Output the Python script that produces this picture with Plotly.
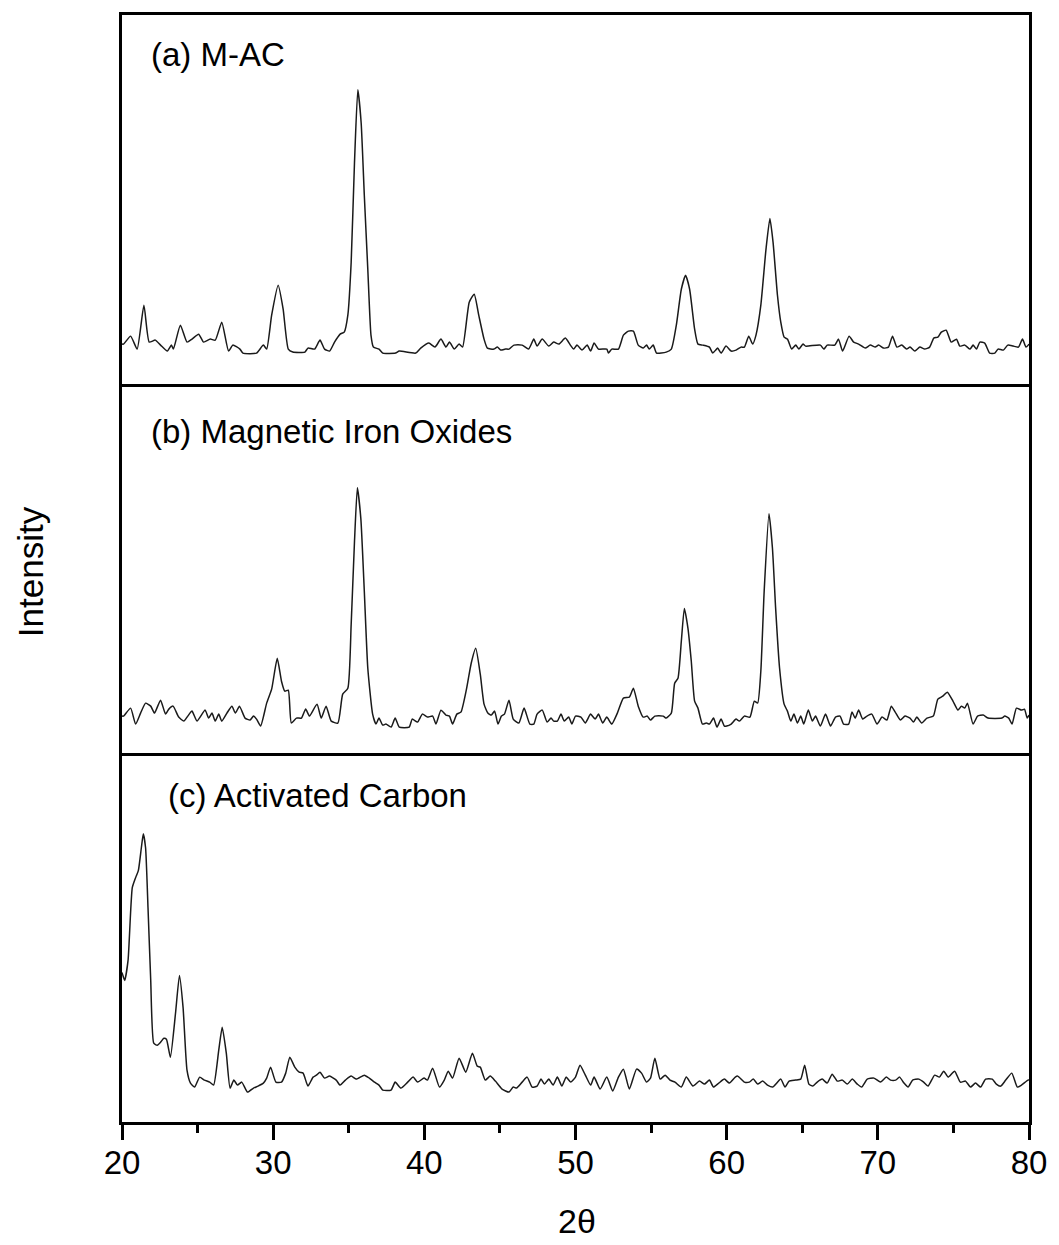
import plotly.graph_objects as go

# ---------------- data ----------------
two_theta_a = [20.0, 20.1, 20.57, 21.0, 21.45, 21.8, 22.2, 22.55, 23.0, 23.27, 23.4, 23.86, 24.3, 24.63, 25.07, 25.4,
               25.84, 26.17, 26.6, 27.05, 27.33, 27.8, 28.0, 28.9, 29.35, 29.57, 29.9, 30.33, 30.66, 31.0, 31.3,
               32.1, 32.3, 32.74, 33.1, 33.4, 33.73, 34.06, 34.43, 34.7, 34.94, 35.16, 35.38, 35.6, 35.82, 36.03,
               36.26, 36.47, 36.63, 37.0, 37.25, 38.1, 38.34, 39.43, 39.76, 40.3, 40.7, 41.1, 41.43, 41.66, 41.98,
               42.3, 42.53, 42.97, 43.3, 43.6, 43.95, 44.17, 44.6, 44.83, 45.05, 45.37, 45.6, 45.93, 46.47, 46.9,
               47.24, 47.46, 47.8, 48.23, 48.56, 48.9, 49.33, 49.66, 49.88, 50.1, 50.43, 50.77, 51.0, 51.23, 51.52,
               52.07, 52.18, 52.4, 52.84, 53.17, 53.5, 53.83, 54.15, 54.48, 54.7, 54.88, 55.14, 55.36, 56.0, 56.34,
               56.67, 57.0, 57.28, 57.55, 57.88, 58.1, 58.43, 58.86, 59.08, 59.4, 59.63, 59.96, 60.3, 60.62, 60.95,
               61.17, 61.46, 61.72, 61.94, 62.26, 62.6, 62.86, 63.07, 63.36, 63.58, 63.8, 64.02, 64.3, 64.57, 64.78,
               65.05, 65.22, 66.2, 66.43, 66.65, 67.15, 67.4, 67.67, 68.1, 68.4, 68.73, 69.17, 69.5, 69.83, 70.05,
               70.38, 70.7, 70.97, 71.26, 71.58, 71.9, 72.13, 72.45, 72.78, 73.1, 73.43, 73.7, 73.97, 74.2, 74.52,
               74.85, 75.2, 75.42, 75.75, 76.1, 76.3, 76.53, 76.75, 77.07, 77.4, 77.74, 77.95, 78.3, 78.6, 78.95,
               79.3, 79.57, 79.8, 80.0]
intensity_a = [40, 40, 48, 35, 79, 42, 44, 39, 33, 39, 35, 59, 42, 45, 50, 42,
               45, 44, 62, 33, 39, 35, 31, 31, 39, 35, 69, 99, 75, 35, 32,
               32, 36, 35, 44, 35, 33, 42, 50, 52, 69, 122, 222, 295, 262, 189,
               115, 49, 37, 35, 31, 31, 33, 31, 36, 41, 37, 45, 37, 42, 35,
               40, 37, 82, 90, 69, 45, 36, 35, 37, 34, 35, 35, 39, 39, 35,
               45, 38, 45, 38, 42, 40, 46, 39, 35, 39, 34, 39, 33, 41, 35,
               35, 31, 35, 35, 49, 53, 53, 39, 36, 39, 35, 39, 31, 32, 35,
               59, 95, 109, 95, 55, 40, 39, 37, 31, 36, 31, 38, 33, 34, 37,
               37, 48, 40, 49, 79, 135, 166, 142, 89, 62, 47, 45, 35, 39, 35,
               40, 38, 39, 35, 39, 39, 45, 33, 48, 42, 40, 36, 39, 37, 39,
               36, 37, 48, 37, 39, 35, 37, 33, 37, 35, 37, 46, 47, 52, 54,
               42, 45, 38, 39, 35, 39, 35, 42, 41, 31, 31, 35, 34, 39, 38,
               37, 45, 37, 40]

two_theta_b = [20.0, 20.1, 20.57, 20.9, 21.23, 21.56, 21.9, 22.15, 22.55, 22.88, 23.1, 23.38, 23.75, 24.09, 24.35,
               24.63, 24.96, 25.5, 25.73, 25.95, 26.17, 26.4, 26.6, 26.94, 27.27, 27.5, 27.77, 28.14, 28.47, 28.7,
               28.9, 29.17, 29.57, 29.9, 30.27, 30.55, 30.77, 31.0, 31.2, 31.54, 31.87, 32.15, 32.4, 32.9, 33.18,
               33.5, 33.84, 34.28, 34.6, 34.94, 35.16, 35.38, 35.57, 35.8, 36.03, 36.26, 36.58, 36.8, 37.0, 37.25,
               37.46, 37.8, 38.07, 38.34, 39.0, 39.2, 39.55, 39.87, 40.2, 40.55, 40.77, 41.1, 41.43, 41.66, 41.87,
               42.15, 42.42, 42.8, 43.1, 43.4, 43.7, 43.95, 44.2, 44.43, 44.65, 44.87, 45.1, 45.3, 45.6, 45.88,
               46.25, 46.6, 46.98, 47.24, 47.46, 47.8, 48.12, 48.38, 48.56, 48.8, 49.04, 49.26, 49.55, 49.76, 50.0,
               50.36, 50.65, 51.0, 51.3, 51.52, 51.8, 52.07, 52.4, 52.77, 53.17, 53.56, 53.83, 54.15, 54.48, 54.75,
               54.96, 55.25, 55.8, 56.0, 56.34, 56.56, 56.78, 57.0, 57.2, 57.44, 57.66, 57.88, 58.1, 58.4, 58.66,
               58.86, 59.13, 59.36, 59.63, 59.85, 60.0, 60.3, 60.62, 60.84, 61.17, 61.54, 61.83, 62.05, 62.26, 62.48,
               62.8, 63.03, 63.24, 63.5, 63.8, 64.02, 64.24, 64.45, 64.68, 64.9, 65.1, 65.4, 65.67, 65.88, 66.2,
               66.54, 66.87, 67.2, 67.5, 67.73, 68.07, 68.29, 68.5, 68.73, 69.0, 69.28, 69.6, 69.95, 70.28, 70.6,
               70.89, 71.15, 71.49, 71.8, 72.13, 72.36, 72.58, 72.9, 73.25, 73.67, 73.97, 74.3, 74.6, 74.97, 75.3,
               75.53, 75.75, 75.93, 76.3, 76.6, 76.97, 77.3, 78.2, 78.4, 78.66, 78.88, 79.17, 79.5, 79.7, 79.88, 80.0]
intensity_b = [37, 37, 45, 29, 40, 50, 47, 40, 53, 39, 44, 47, 36, 32, 37,
               42, 32, 43, 35, 40, 32, 39, 32, 40, 47, 40, 47, 35, 33, 37,
               34, 27, 50, 64, 95, 72, 62, 63, 30, 35, 35, 44, 37, 49, 35,
               47, 32, 30, 59, 65, 129, 212, 266, 235, 162, 85, 39, 29, 35, 28,
               29, 26, 35, 26, 26, 34, 31, 39, 36, 37, 29, 43, 38, 37, 29,
               39, 41, 65, 90, 105, 79, 49, 40, 38, 42, 29, 37, 39, 53, 34,
               30, 45, 29, 29, 39, 43, 31, 35, 32, 32, 39, 32, 36, 29, 37,
               36, 30, 39, 34, 39, 30, 36, 29, 40, 55, 56, 65, 47, 36, 37,
               33, 37, 37, 35, 40, 70, 75, 112, 145, 125, 92, 52, 45, 29, 30,
               29, 35, 26, 34, 27, 27, 29, 34, 32, 37, 36, 52, 50, 82, 162,
               240, 205, 145, 85, 49, 42, 32, 39, 30, 37, 29, 43, 32, 37, 27,
               39, 27, 36, 37, 29, 29, 41, 35, 43, 34, 37, 39, 29, 36, 33,
               47, 41, 33, 37, 35, 31, 36, 30, 35, 37, 54, 57, 61, 52, 43,
               47, 45, 50, 29, 37, 38, 35, 35, 37, 35, 29, 45, 43, 44, 35, 38]

two_theta_c = [20.0, 20.1, 20.18, 20.4, 20.68, 20.9, 21.08, 21.28, 21.41, 21.56, 21.72, 21.9, 22.1, 22.33, 22.55,
               22.77, 22.94, 23.2, 23.54, 23.8, 24.04, 24.3, 24.53, 24.8, 25.14, 25.45, 25.8, 26.06, 26.4, 26.63,
               26.9, 27.15, 27.4, 27.64, 27.92, 28.3, 28.7, 29.0, 29.35, 29.57, 29.83, 30.18, 30.55, 30.83, 31.1,
               31.43, 31.72, 31.98, 32.3, 32.64, 32.86, 33.1, 33.4, 33.73, 34.17, 34.43, 34.78, 35.16, 35.5, 36.03,
               36.36, 36.7, 37.0, 37.25, 37.8, 38.07, 38.45, 38.9, 39.26, 39.55, 39.98, 40.2, 40.55, 41.0, 41.32,
               41.58, 41.87, 42.3, 42.74, 43.18, 43.5, 43.7, 44.03, 44.36, 44.7, 45.14, 45.6, 45.88, 46.1, 46.47,
               46.8, 47.13, 47.46, 47.72, 47.95, 48.23, 48.52, 48.8, 49.1, 49.38, 49.68, 50.0, 50.3, 50.65, 51.0,
               51.23, 51.63, 52.07, 52.46, 52.84, 53.17, 53.56, 54.04, 54.37, 54.7, 54.96, 55.25, 55.6, 55.93, 56.25,
               56.58, 57.0, 57.33, 57.77, 58.2, 58.53, 58.86, 59.13, 59.48, 59.85, 60.18, 60.57, 60.73, 61.17, 61.5,
               61.76, 62.05, 62.38, 62.7, 63.04, 63.58, 63.86, 64.13, 64.57, 64.9, 65.16, 65.44, 65.7, 65.99, 66.32,
               66.65, 66.98, 67.32, 67.65, 67.98, 68.31, 68.64, 68.93, 69.3, 69.74, 70.18, 70.56, 70.84, 71.18, 71.44,
               71.73, 72.0, 72.3, 72.7, 73.03, 73.32, 73.76, 74.07, 74.36, 74.65, 75.08, 75.46, 75.8, 76.13, 76.46,
               76.8, 77.13, 77.57, 77.84, 78.13, 78.46, 78.86, 79.23, 79.5, 79.93, 80.0]
intensity_c = [150, 145, 142, 162, 235, 245, 252, 275, 289, 275, 215, 142, 79, 77, 80,
               84, 83, 65, 109, 147, 115, 52, 39, 35, 45, 42, 40, 37, 72, 95,
               69, 34, 42, 37, 40, 30, 34, 36, 39, 44, 55, 40, 40, 49, 65,
               55, 50, 49, 36, 45, 47, 50, 44, 46, 42, 37, 42, 46, 43, 47,
               44, 40, 37, 32, 32, 40, 34, 40, 45, 40, 44, 42, 54, 35, 42,
               51, 44, 64, 50, 69, 56, 55, 42, 46, 41, 33, 30, 35, 34, 40,
               45, 35, 36, 43, 38, 43, 37, 45, 36, 45, 40, 45, 57, 47, 37,
               45, 33, 45, 31, 45, 53, 33, 53, 49, 40, 44, 64, 43, 47, 42,
               40, 35, 45, 36, 41, 38, 42, 35, 39, 43, 39, 45, 46, 40, 40,
               43, 38, 41, 37, 35, 43, 35, 41, 42, 43, 57, 38, 36, 40, 43,
               39, 48, 41, 42, 38, 43, 38, 35, 43, 44, 40, 45, 42, 42, 45,
               39, 35, 42, 43, 40, 36, 47, 45, 51, 45, 51, 40, 41, 35, 39,
               35, 43, 43, 38, 36, 42, 49, 35, 37, 42, 42]

panel_labels = ["(a) M-AC", "(b) Magnetic Iron Oxides", "(c) Activated Carbon"]
x_ticks = [20, 30, 40, 50, 60, 70, 80]
x_minor_ticks = [25, 35, 45, 55, 65, 75]
x_title = "2θ"
y_title = "Intensity"

# ---------------- figure ----------------
FONT = "Arial, Liberation Sans, sans-serif"
fig = go.Figure()

series = [(two_theta_a, intensity_a), (two_theta_b, intensity_b), (two_theta_c, intensity_c)]
xrefs = ["x", "x2", "x3"]
yrefs = ["y", "y2", "y3"]
for i, (xs, ys) in enumerate(series):
    fig.add_trace(go.Scatter(x=xs, y=ys, mode="lines", xaxis=xrefs[i], yaxis=yrefs[i],
                             line=dict(color="#1a1a1a", width=1.5, shape="spline", smoothing=0.5),
                             showlegend=False, hoverinfo="skip"))

domains = [[2/3, 1.0], [1/3, 2/3], [0.0, 1/3]]
LW = 2.5
axis_common = dict(showline=True, linecolor="black", linewidth=LW,
                   showgrid=False, zeroline=False)

layout = dict(
    width=1059, height=1245,
    margin=dict(l=122, r=25, t=12, b=123),
    paper_bgcolor="white", plot_bgcolor="white",
    font=dict(family=FONT, color="black"),
)
for i in range(3):
    xname = "xaxis" if i == 0 else f"xaxis{i+1}"
    yname = "yaxis" if i == 0 else f"yaxis{i+1}"
    xa = dict(axis_common, range=[20, 80], domain=[0, 1], anchor=yrefs[i],
              mirror=(i == 0))
    if i == 2:
        xa.update(ticks="outside", ticklen=15, tickwidth=2.5, tickcolor="black",
                  tickvals=x_ticks, ticktext=[str(t) for t in x_ticks],
                  tickfont=dict(size=33, family=FONT), ticklabelstandoff=-5,
                  minor=dict(ticks="outside", ticklen=8, tickwidth=2.5, tickcolor="black",
                             tickvals=x_minor_ticks))
    else:
        xa.update(showticklabels=False, ticks="")
    layout[xname] = xa
    layout[yname] = dict(axis_common, mirror=True, range=[0, 370], domain=domains[i],
                         anchor=xrefs[i], showticklabels=False, ticks="")

fig.update_layout(**layout)

label_pos = [(0.030, 0.892), (0.030, 0.870), (0.048, 0.884)]
for i, txt in enumerate(panel_labels):
    xr = "x domain" if i == 0 else f"x{i+1} domain"
    yr = "y domain" if i == 0 else f"y{i+1} domain"
    fig.add_annotation(text=txt, x=label_pos[i][0], y=label_pos[i][1], xref=xr, yref=yr,
                       xanchor="left", yanchor="middle", showarrow=False,
                       font=dict(size=33, family=FONT, color="black"))

fig.add_annotation(text=y_title, x=-0.101, y=0.497, xref="paper", yref="paper",
                   xanchor="center", yanchor="middle", textangle=-90, showarrow=False,
                   font=dict(size=35, family=FONT, color="black"))
fig.add_annotation(text=x_title, x=0.502, y=-0.089, xref="paper", yref="paper",
                   xanchor="center", yanchor="middle", showarrow=False,
                   font=dict(size=34, family=FONT, color="black"))

fig.write_html("out.html")
